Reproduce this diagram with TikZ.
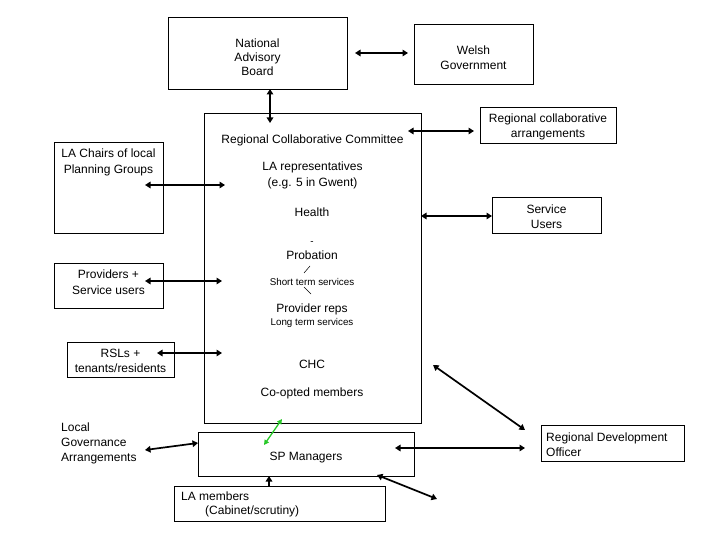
\documentclass[tikz,border=0pt]{standalone}
\usepackage{fontspec}
\setmainfont{Liberation Sans}
\usetikzlibrary{arrows.meta}
\definecolor{arrowgreen}{RGB}{40,200,40}
\tikzset{
  box/.style={draw, line width=0.8pt, inner sep=0pt, align=center, font=\fontsize{12}{15}\selectfont},
  txt/.style={inner sep=0pt, align=center, font=\fontsize{12}{15}\selectfont},
  smalltxt/.style={inner sep=0pt, font=\fontsize{9.8}{11}\selectfont},
  link/.style={line width=1.7pt, {Triangle[length=5.5pt,width=6.5pt]}-{Triangle[length=5.5pt,width=6.5pt]}},
  onelink/.style={line width=1.7pt, -{Triangle[length=5.5pt,width=6.5pt]}},
  greenlink/.style={line width=1.3pt, draw=arrowgreen, {Triangle[length=5pt,width=5pt]}-{Triangle[length=5pt,width=5pt]}},
  slashline/.style={line width=0.5pt}
}
\begin{document}
\begin{tikzpicture}[x=1pt,y=-1pt]
\useasboundingbox (0,0) rectangle (720,540);
% boxes
\node[box, minimum width=179, minimum height=72] (nab) at (257.5,53) {};
\node[txt, font=\fontsize{12}{14}\selectfont] (nabtxt) at (257.5,57) {National\\Advisory\\Board};
\node[box, minimum width=119, minimum height=60] (wg) at (473.5,54) {};
\node[txt] (wgtxt) at (473.5,58) {Welsh\\Government};
\node[box, minimum width=217, minimum height=310] (rcc) at (312.5,268) {};
\node[box, minimum width=109, minimum height=91] (lac) at (108.5,187.5) {};
\node[txt, font=\fontsize{12}{16}\selectfont] (lactxt) at (108.5,162) {LA Chairs of local\\Planning Groups};
\node[box, minimum width=136, minimum height=36] (rca) at (548,125) {};
\node[txt] (rcatxt) at (548,126.5) {Regional collaborative\\arrangements};
\node[box, minimum width=109, minimum height=36] (su) at (546.5,215) {};
\node[txt] (sutxt) at (546.5,216.5) {Service\\Users};
\node[box, minimum width=109, minimum height=45] (prov) at (108.5,285.5) {};
\node[txt, font=\fontsize{12}{16}\selectfont] (provtxt) at (108.5,282) {Providers +\\Service users};
\node[box, minimum width=107, minimum height=35] (rsl) at (120.5,359.5) {};
\node[txt] (rsltxt) at (120.5,360.5) {RSLs +\\tenants/residents};
\node[box, minimum width=216, minimum height=44] (sp) at (306,454) {};
\node[txt] (sptxt) at (306,458) {SP Managers};
\node[box, minimum width=211, minimum height=35] (lam) at (279.5,503.5) {};
\node[txt, anchor=west] (lamtxt1) at (181,496.5) {LA members};
\node[txt, anchor=west] (lamtxt2) at (205,511.5) {(Cabinet/scrutiny)};
\node[box, minimum width=143, minimum height=36] (rdo) at (612.5,443) {};
\node[txt, anchor=west, align=left] (rdotxt) at (546,444.5) {Regional Development\\Officer};
\node[txt, anchor=west, align=left] (lga) at (61,443.5) {Local\\Governance\\Arrangements};
% RCC contents
\node[txt] (t1) at (312.5,140) {Regional Collaborative Committee};
\node[txt, font=\fontsize{12}{16}\selectfont] (t2) at (312.5,175) {LA representatives\\(e.g. 5 in Gwent)};
\node[txt] (t3) at (312,212) {Health};
\node[smalltxt] (t4) at (312,243) {-};
\node[txt] (t5) at (312,255) {Probation};
\node[smalltxt] (t6) at (312,282) {Short term services};
\node[txt] (t7) at (312,309) {Provider reps};
\node[smalltxt] (t8) at (312,323) {Long term services};
\node[txt] (t9) at (312,364) {CHC};
\node[txt] (t10) at (312,393) {Co-opted members};
\coordinate (s1a) at (304,273); \coordinate (s1b) at (310,266);
\coordinate (s2a) at (304,287); \coordinate (s2b) at (311,294);
\draw[slashline] (s1a) -- (s1b);
\draw[slashline] (s2a) -- (s2b);
% connector end points
\coordinate (a1) at (355,53);  \coordinate (b1) at (408,53);
\coordinate (a2) at (270,89);  \coordinate (b2) at (270,123);
\coordinate (a3) at (145,185); \coordinate (b3) at (225,185);
\coordinate (a4) at (408,131); \coordinate (b4) at (474,131);
\coordinate (a5) at (421,216); \coordinate (b5) at (492,216);
\coordinate (a6) at (145,281); \coordinate (b6) at (222,281);
\coordinate (a7) at (157,353); \coordinate (b7) at (222,353);
\coordinate (a8) at (145,450); \coordinate (b8) at (198,443);
\coordinate (a9) at (282,419); \coordinate (b9) at (264,445);
\coordinate (a10) at (395,448); \coordinate (b10) at (525,448);
\coordinate (a11) at (433,365); \coordinate (b11) at (525,430);
\coordinate (a12) at (377,475); \coordinate (b12) at (437,499);
\coordinate (a13) at (269,486); \coordinate (b13) at (269,476);
% connectors
\draw[link] (a1) -- (b1);
\draw[link] (a2) -- (b2);
\draw[link] (a3) -- (b3);
\draw[link] (a4) -- (b4);
\draw[link] (a5) -- (b5);
\draw[link] (a6) -- (b6);
\draw[link] (a7) -- (b7);
\draw[link] (a8) -- (b8);
\draw[greenlink] (a9) -- (b9);
\draw[link] (a10) -- (b10);
\draw[link] (a11) -- (b11);
\draw[link] (a12) -- (b12);
\draw[onelink] (a13) -- (b13);
\end{tikzpicture}
\end{document}
